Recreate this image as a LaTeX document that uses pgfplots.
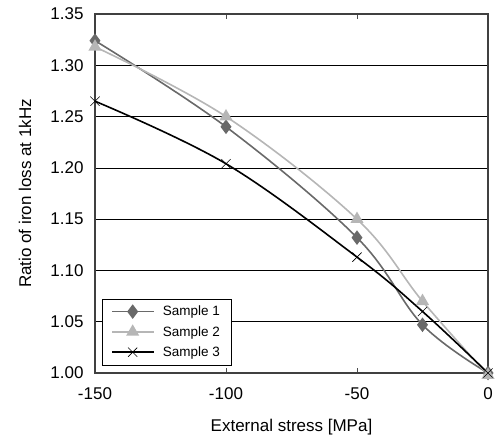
\documentclass[border=0pt]{standalone}
\usepackage{pgfplots}
\pgfplotsset{compat=1.18}
\usepackage{fontspec}
\setmainfont{Liberation Sans}
\definecolor{sone}{RGB}{105,105,105}
\definecolor{stwo}{RGB}{182,182,182}
\begin{document}
\begin{tikzpicture}
\begin{axis}[
    scale only axis,
    width=393bp, height=359bp,
    xmin=-150, xmax=0,
    ymin=1.0, ymax=1.35,
    xtick={-150,-100,-50,0},
    ytick={1.00,1.05,...,1.35},
    yticklabel style={xshift=-8bp, /pgf/number format/fixed, /pgf/number format/fixed zerofill, /pgf/number format/precision=2},
    /pgf/number format/assume math mode=true,
    ymajorgrids,
    grid style={black, line width=0.7bp},
    axis line style={draw=black!75, line width=1.3bp},
    tick align=inside,
    major tick length=5bp,
    ytick style={draw=none},
    xtick style={black!70, line width=0.6bp},
    tick label style={font=\fontsize{17bp}{19bp}\selectfont},
    xticklabel style={yshift=-11bp},
    label style={font=\fontsize{17bp}{19bp}\selectfont},
    xlabel={External stress [MPa]},
    ylabel={Ratio of iron loss at 1kHz},
    xlabel style={at={(axis description cs:0.5,-0.150)}, anchor=center},
    ylabel style={at={(axis description cs:-0.178,0.5)}, anchor=center, rotate=0},
    legend style={at={(rel axis cs:0.018,0.022)}, anchor=south west,
        draw=black, line width=0.6bp,
        font=\fontsize{13.5bp}{15bp}\selectfont, row sep=5bp,
        inner xsep=9bp, inner ysep=5bp,
        /tikz/every odd column/.append style={column sep=7bp}},
    legend cell align=left,
    legend image code/.code={\draw[mark repeat=2,mark phase=2,#1] plot coordinates {(0bp,0bp)(20.5bp,0bp)(41bp,0bp)};},
    clip=false,
]
\addplot[sone, line width=1.6bp, smooth, tension=0.6, mark=diamond*, mark size=6bp, mark options={solid, fill=sone, draw=sone}]
  coordinates {(-150,1.324)(-100,1.240)(-50,1.132)(-25,1.047)(0,1.000)};
\addlegendentry{Sample 1}
\addplot[stwo, line width=1.6bp, smooth, tension=0.6, mark=triangle*, mark size=6bp, mark options={solid, fill=stwo, draw=stwo}]
  coordinates {(-150,1.318)(-100,1.250)(-50,1.150)(-25,1.070)(0,0.998)};
\addlegendentry{Sample 2}
\addplot[black, line width=1.6bp, smooth, tension=0.6, mark=x, mark size=6.5bp, mark options={solid, line width=0.6bp}]
  coordinates {(-150,1.265)(-100,1.204)(-50,1.113)(-25,1.060)(0,1.000)};
\addlegendentry{Sample 3}
\end{axis}
\path ([xshift=-95bp,yshift=-70bp]current axis.south west) rectangle ([xshift=10bp,yshift=14bp]current axis.north east);
\end{tikzpicture}
\end{document}
